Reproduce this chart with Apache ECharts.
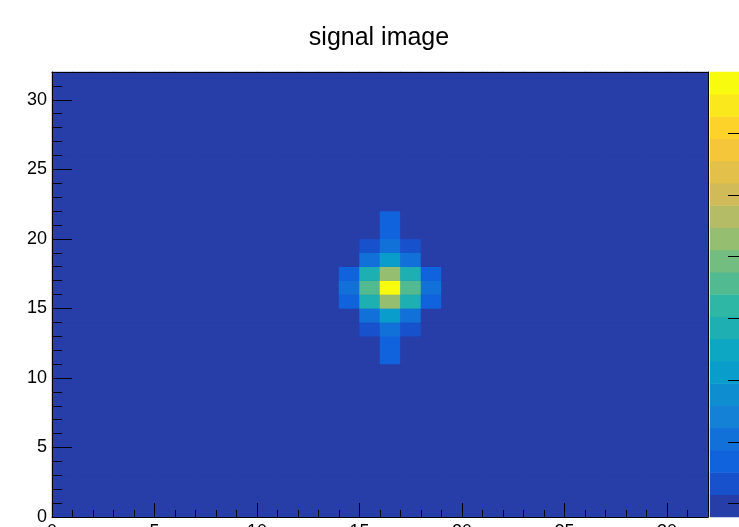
<!DOCTYPE html>
<html>
<head>
<meta charset="utf-8">
<title>signal image</title>
<script src="https://cdn.jsdelivr.net/npm/echarts@6/dist/echarts.min.js"></script>
<style>
  html, body { margin: 0; padding: 0; background: #ffffff; }
  #chart { width: 739px; height: 527px; }
</style>
</head>
<body>
<div id="chart"></div>
<script>
// Bin indices along each axis: bin i covers [i, i+1)
const xBins = [0, 1, 2, 3, 4, 5, 6, 7, 8, 9, 10, 11, 12, 13, 14, 15,
               16, 17, 18, 19, 20, 21, 22, 23, 24, 25, 26, 27, 28, 29, 30, 31];
const yBins = [0, 1, 2, 3, 4, 5, 6, 7, 8, 9, 10, 11, 12, 13, 14, 15,
               16, 17, 18, 19, 20, 21, 22, 23, 24, 25, 26, 27, 28, 29, 30, 31];

// Content of every bin not listed in signalCells
const backgroundValue = 0;

// Non-empty bins: [x bin, y bin, content]
const signalCells = [
  [16, 21, 0.069],
  [16, 20, 0.069],
  [15, 19, 0.033], [16, 19, 0.105], [17, 19, 0.033],
  [15, 18, 0.105], [16, 18, 0.213], [17, 18, 0.105],
  [14, 17, 0.069], [15, 17, 0.285], [16, 17, 0.429], [17, 17, 0.285], [18, 17, 0.069],
  [14, 16, 0.105], [15, 16, 0.357], [16, 16, 0.699], [17, 16, 0.357], [18, 16, 0.105],
  [14, 15, 0.069], [15, 15, 0.285], [16, 15, 0.429], [17, 15, 0.285], [18, 15, 0.069],
  [15, 14, 0.105], [16, 14, 0.213], [17, 14, 0.105],
  [15, 13, 0.033], [16, 13, 0.105], [17, 13, 0.033],
  [16, 12, 0.069],
  [16, 11, 0.069]
];

// Colour scale range and its axis ticks
const zMin = -0.0215;
const zMax = 0.699;
const paletteTicks = [0, 0.1, 0.2, 0.3, 0.4, 0.5, 0.6];

// ---------------------------------------------------------------
// "Bird" colour palette, 20 contour levels
const NLEVELS = 20;
const birdStops = [0.0000, 0.1250, 0.2500, 0.3750, 0.5000, 0.6250, 0.7500, 0.8750, 1.0000];
const birdR = [0.2082, 0.0592, 0.0780, 0.0232, 0.1802, 0.5301, 0.8186, 0.9956, 0.9764];
const birdG = [0.1664, 0.3599, 0.5041, 0.6419, 0.7178, 0.7492, 0.7328, 0.7862, 0.9832];
const birdB = [0.5293, 0.8684, 0.8385, 0.7914, 0.6425, 0.4662, 0.3499, 0.1968, 0.0539];

function birdColour(p) {
  let s = 0;
  while (s < birdStops.length - 2 && p > birdStops[s + 1]) s++;
  const t = (p - birdStops[s]) / (birdStops[s + 1] - birdStops[s]);
  const mix = (a) => Math.round(255 * (a[s] + t * (a[s + 1] - a[s])));
  return 'rgb(' + mix(birdR) + ',' + mix(birdG) + ',' + mix(birdB) + ')';
}

const levelWidth = (zMax - zMin) / NLEVELS;
const levelColours = [];
const pieces = [];
for (let k = 0; k < NLEVELS; k++) {
  const idx = Math.floor((k + 0.99) * 255 / NLEVELS);
  const col = birdColour(Math.min(idx, 254) / 254);
  levelColours.push(col);
  const lo = zMin + k * levelWidth;
  const hi = zMin + (k + 1) * levelWidth;
  const piece = { gte: k === 0 ? -Infinity : lo, color: col };
  if (k === NLEVELS - 1) piece.lte = Infinity; else piece.lt = hi;
  pieces.push(piece);
}

// Full bin table
const cellLookup = {};
signalCells.forEach(c => { cellLookup[c[0] + ',' + c[1]] = c[2]; });
const binData = [];
xBins.forEach((xb, i) => {
  yBins.forEach((yb, j) => {
    const v = cellLookup[xb + ',' + yb];
    binData.push([i, j, v === undefined ? backgroundValue : v]);
  });
});

// Palette column: one cell per contour level
const paletteLevels = [];
const paletteData = [];
for (let k = 0; k < NLEVELS; k++) {
  paletteLevels.push(k);
  paletteData.push([0, k, zMin + (k + 0.5) * levelWidth]);
}

const FONT = '"Liberation Sans", Arial, Helvetica, sans-serif';

const hidden = {
  axisLine: { show: false }, axisTick: { show: false },
  axisLabel: { show: false }, splitLine: { show: false }
};

const chart = echarts.init(document.getElementById('chart'), null, { renderer: 'canvas' });

chart.setOption({
  animation: false,
  backgroundColor: '#ffffff',
  title: {
    text: 'signal image',
    left: 374,
    top: 21,
    textAlign: 'center',
    textStyle: { fontFamily: FONT, fontSize: 25, fontWeight: 'normal', color: '#000' }
  },
  grid: [
    {
      left: 52, top: 72, width: 656, height: 445,
      containLabel: false, outerBoundsMode: 'none',
      show: true, borderWidth: 0, backgroundColor: levelColours[0]
    },
    {
      left: 710, top: 72, width: 33, height: 445,
      containLabel: false, outerBoundsMode: 'none',
      show: true, borderWidth: 0, backgroundColor: 'transparent'
    }
  ],
  visualMap: {
    type: 'piecewise',
    show: false,
    dimension: 2,
    seriesIndex: [0, 1],
    pieces: pieces
  },
  xAxis: [
    // 0: bins of the image
    Object.assign({ type: 'category', gridIndex: 0, data: xBins }, hidden),
    // 1: major ticks and labels
    {
      type: 'value', gridIndex: 0, position: 'bottom', min: 0, max: 32, interval: 5, z: 10,
      axisLine: { show: true, lineStyle: { color: '#000', width: 1 } },
      axisTick: { show: true, inside: true, length: 14, lineStyle: { color: '#000', width: 1 } },
      axisLabel: { show: true, margin: 6, fontFamily: FONT, fontSize: 18, color: '#000',
                   showMaxLabel: false, showMinLabel: true },
      splitLine: { show: false }
    },
    // 2: minor ticks
    {
      type: 'value', gridIndex: 0, position: 'bottom', min: 0, max: 32, interval: 1, z: 10,
      axisLine: { show: false },
      axisTick: { show: true, inside: true, length: 7, lineStyle: { color: '#000', width: 1 } },
      axisLabel: { show: false }, splitLine: { show: false }
    },
    // 3: upper frame edge
    {
      type: 'value', gridIndex: 0, position: 'top', min: 0, max: 32, z: 10,
      axisLine: { show: true, lineStyle: { color: '#000', width: 1 } },
      axisTick: { show: false }, axisLabel: { show: false }, splitLine: { show: false }
    },
    // 4: palette column
    Object.assign({ type: 'category', gridIndex: 1, data: [0] }, hidden)
  ],
  yAxis: [
    // 0: bins of the image
    Object.assign({ type: 'category', gridIndex: 0, data: yBins }, hidden),
    // 1: major ticks and labels
    {
      type: 'value', gridIndex: 0, position: 'left', min: 0, max: 32, interval: 5, z: 10,
      axisLine: { show: true, lineStyle: { color: '#000', width: 1 } },
      axisTick: { show: true, inside: true, length: 20, lineStyle: { color: '#000', width: 1 } },
      axisLabel: { show: true, margin: 5, fontFamily: FONT, fontSize: 18, color: '#000',
                   showMaxLabel: false, showMinLabel: true },
      splitLine: { show: false }
    },
    // 2: minor ticks
    {
      type: 'value', gridIndex: 0, position: 'left', min: 0, max: 32, interval: 1, z: 10,
      axisLine: { show: false },
      axisTick: { show: true, inside: true, length: 10, lineStyle: { color: '#000', width: 1 } },
      axisLabel: { show: false }, splitLine: { show: false }
    },
    // 3: right frame edge
    {
      type: 'value', gridIndex: 0, position: 'right', min: 0, max: 32, z: 10,
      axisLine: { show: true, lineStyle: { color: '#000', width: 1 } },
      axisTick: { show: false }, axisLabel: { show: false }, splitLine: { show: false }
    },
    // 4: palette levels
    Object.assign({ type: 'category', gridIndex: 1, data: paletteLevels }, hidden),
    // 5: palette value axis
    {
      type: 'value', gridIndex: 1, position: 'right', min: zMin, max: zMax, z: 10,
      axisLine: { show: true, lineStyle: { color: '#000', width: 1 } },
      axisTick: { show: true, inside: true, length: 15, customValues: paletteTicks,
                  lineStyle: { color: '#000', width: 1 } },
      axisLabel: { show: true, margin: 4, fontFamily: FONT, fontSize: 18, color: '#000',
                   customValues: paletteTicks },
      splitLine: { show: false }
    }
  ],
  series: [
    {
      name: 'signal image',
      type: 'heatmap',
      xAxisIndex: 0, yAxisIndex: 0,
      data: binData,
      progressive: 0,
      itemStyle: { borderWidth: 0 },
      emphasis: { disabled: true }
    },
    {
      name: 'palette',
      type: 'heatmap',
      xAxisIndex: 4, yAxisIndex: 4,
      data: paletteData,
      progressive: 0,
      itemStyle: { borderWidth: 0 },
      emphasis: { disabled: true }
    }
  ]
});
</script>
</body>
</html>
